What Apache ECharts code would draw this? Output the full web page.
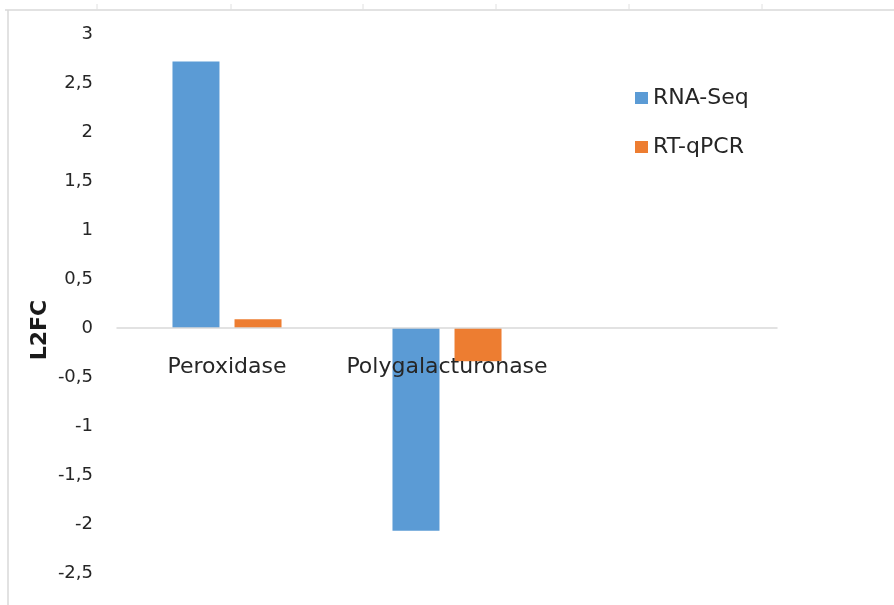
<!DOCTYPE html>
<html>
<head>
<meta charset="utf-8">
<script src="https://cdn.jsdelivr.net/npm/echarts@6/dist/echarts.min.js"></script>
<style>
  html, body { margin: 0; padding: 0; background: #ffffff; }
  #chart { width: 894px; height: 605px; }
</style>
</head>
<body>
<div id="chart"></div>
<script>
// Genes on the category axis (third slot left empty)
const genes = ['Peroxidase', 'Polygalacturonase', ''];
// Log2 fold change per method
const rnaSeq = [2.72, -2.07, null];
const rtqPCR = [0.09, -0.34, null];
// Value-axis range
const yMin = -2.5;
const yMax = 3;
const yStep = 0.5;

const FONT = '"DejaVu Sans", "Noto Sans", sans-serif';
const chart = echarts.init(document.getElementById('chart'), null, { renderer: 'canvas' });

// Small tick marks along the frame's top edge
const topTicks = [97, 231, 363, 496, 629, 762].map(x => ({
  type: 'line',
  shape: { x1: x, y1: 4, x2: x, y2: 10 },
  style: { stroke: '#e0e0e0', lineWidth: 1 },
  silent: true
}));

chart.setOption({
  animation: false,
  backgroundColor: '#ffffff',
  color: ['#5B9BD5', '#ED7D31'],
  grid: {
    left: 117, right: 117, top: 34, bottom: 32,
    containLabel: false, outerBoundsMode: 'none'
  },
  legend: {
    orient: 'vertical',
    left: 630,
    top: 82,
    itemWidth: 13,
    itemHeight: 12,
    itemGap: 27,
    icon: 'rect',
    textStyle: { fontFamily: FONT, fontSize: 22, color: '#262626' },
    data: ['RNA-Seq', 'RT-qPCR']
  },
  xAxis: {
    type: 'category',
    data: genes,
    z: 5,
    axisLine: { onZero: true, lineStyle: { color: '#d9d9d9', width: 1.5 } },
    axisTick: { show: false },
    // labels sit just under the zero line rather than at the grid's bottom edge
    axisLabel: { fontFamily: FONT, fontSize: 22, color: '#262626', margin: -217, interval: 0 },
    splitLine: { show: false }
  },
  yAxis: {
    type: 'value',
    min: yMin,
    max: yMax,
    interval: yStep,
    axisLine: { show: false },
    axisTick: { show: false },
    splitLine: { show: false },
    axisLabel: {
      fontFamily: FONT,
      fontSize: 18,
      color: '#262626',
      margin: 24,
      formatter: v => String(v).replace('.', ',')
    }
  },
  graphic: [
    // Light frame around the plot
    {
      type: 'line',
      shape: { x1: 8, y1: 10, x2: 8, y2: 605 },
      style: { stroke: '#d9d9d9', lineWidth: 1.5 },
      silent: true
    },
    {
      type: 'line',
      shape: { x1: 5, y1: 10, x2: 894, y2: 10 },
      style: { stroke: '#d9d9d9', lineWidth: 1.5 },
      silent: true
    },
    ...topTicks,
    // Value-axis title
    {
      type: 'text',
      x: 40,
      y: 330,
      rotation: Math.PI / 2,
      style: {
        text: 'L2FC',
        fontFamily: FONT,
        fontSize: 22,
        fontWeight: 'bold',
        fill: '#1a1a1a',
        align: 'center',
        verticalAlign: 'middle'
      },
      silent: true
    }
  ],
  series: [
    {
      name: 'RNA-Seq',
      type: 'bar',
      data: rnaSeq,
      barWidth: 47,
      barGap: '32%'
    },
    {
      name: 'RT-qPCR',
      type: 'bar',
      data: rtqPCR,
      barWidth: 47,
      barGap: '32%'
    }
  ]
});
</script>
</body>
</html>
